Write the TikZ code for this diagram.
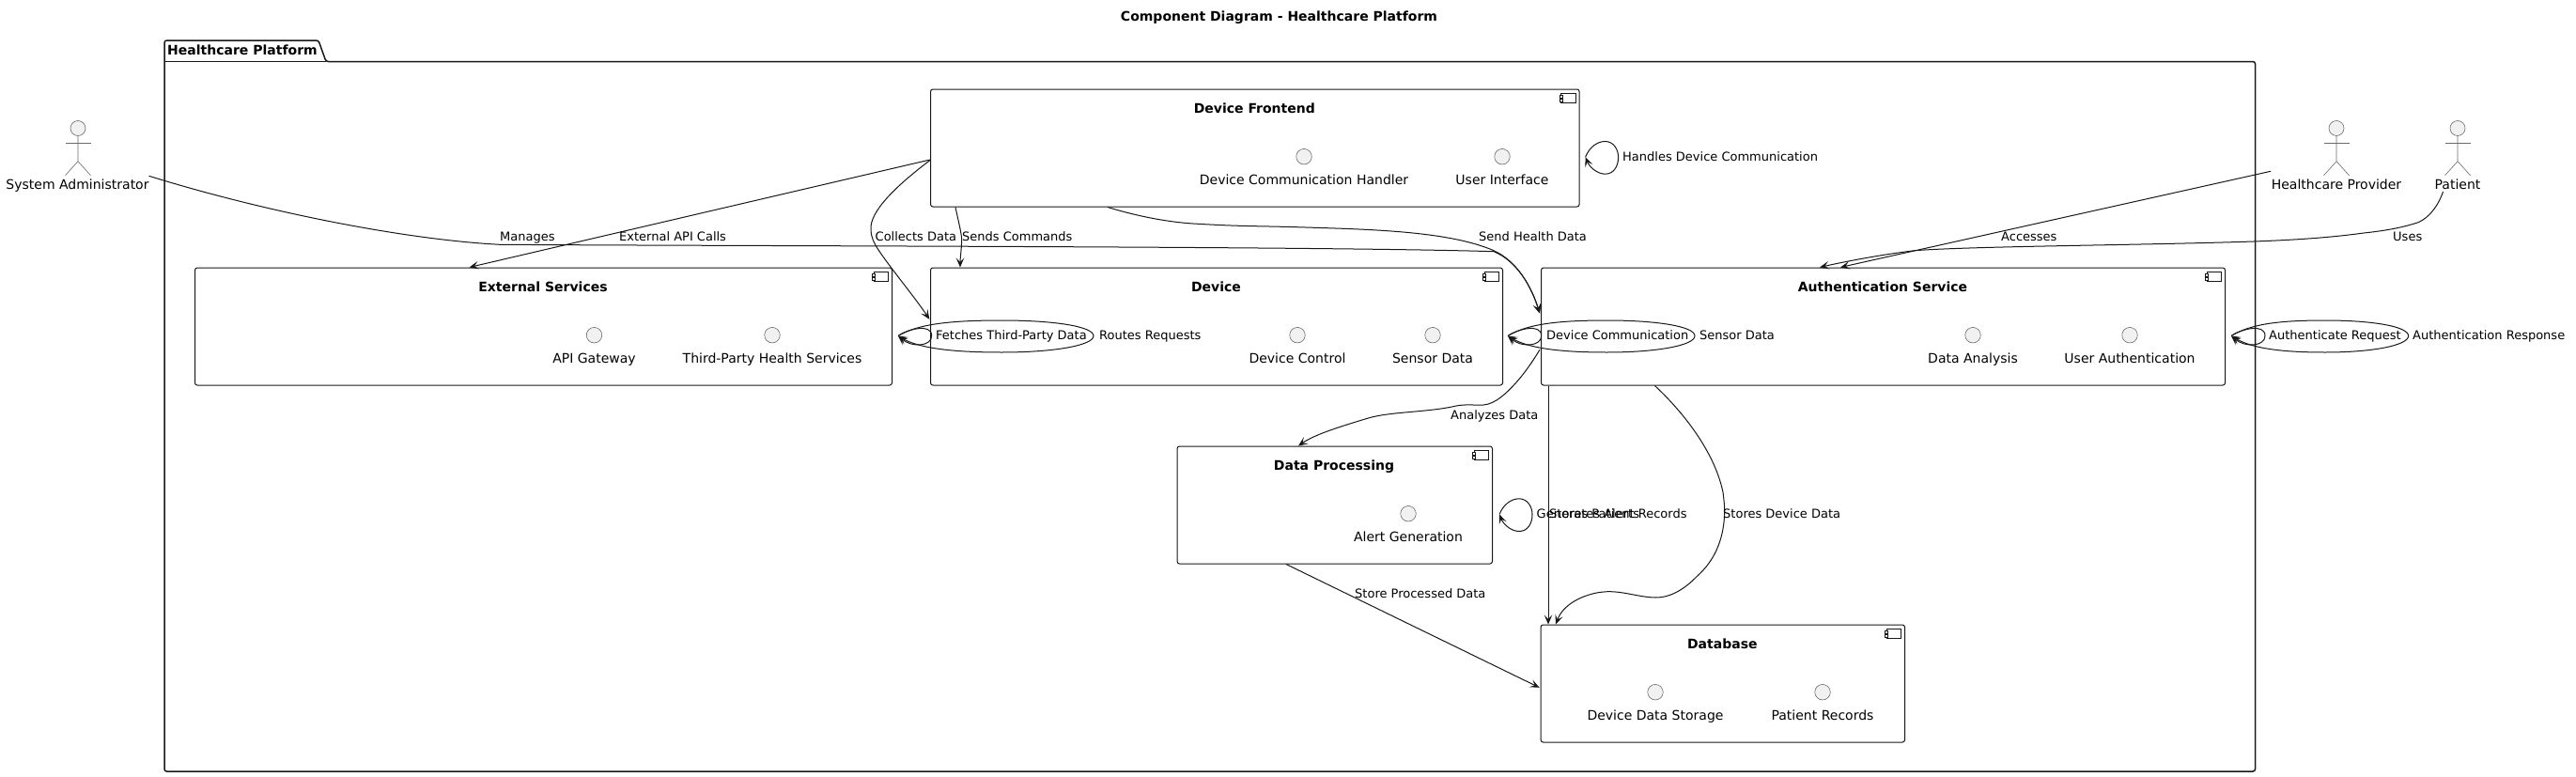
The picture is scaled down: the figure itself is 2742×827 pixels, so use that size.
\documentclass[tikz,border=0pt]{standalone}
\usepackage{fontspec}
\setmainfont{DejaVu Sans}
\usetikzlibrary{arrows.meta,calc}
\definecolor{ink}{HTML}{181818}
\definecolor{soft}{HTML}{6A6A6A}
\definecolor{iface}{HTML}{F1F1F1}
\tikzset{
  box/.style={draw=ink,fill=white,line width=1pt,rounded corners=2.5pt,inner sep=0pt,anchor=north west},
  boxtitle/.style={font=\fontsize{14}{16}\selectfont\bfseries,text=black,inner sep=0pt,anchor=base},
  lbl/.style={font=\fontsize{13}{15}\selectfont,text=black,inner sep=0pt,anchor=base west},
  clbl/.style={font=\fontsize{14}{16}\selectfont,text=black,inner sep=0pt,anchor=base},
  ball/.style={circle,draw=soft,fill=iface,line width=.6pt,minimum size=16.5pt,inner sep=0pt},
  edge/.style={draw=ink,line width=1pt,-{Stealth[length=10pt,width=8.5pt,inset=4.5pt]}},
  figure/.style={draw=soft,line width=.6pt},
  pack/.style={draw=ink,fill=white,line width=1.5pt,rounded corners=2.5pt},
}
\newcommand{\compicon}[1]{%
  \begin{scope}[shift={(#1.north east)}]
    \draw[ink,line width=.6pt,fill=white] (-20,5) rectangle (-4.5,15);
    \draw[ink,line width=.6pt,fill=white] (-21.7,6.7) rectangle (-18.3,9.3);
    \draw[ink,line width=.6pt,fill=white] (-21.7,10.7) rectangle (-18.3,13.3);
  \end{scope}}
\newcommand{\tightself}[1]{%
  \draw[edge,shift={(#1)}] (0,0) .. controls (4,-10) and (12,-16.7) .. (21,-16.7)
     .. controls (30,-16.7) and (35,-8) .. (35,0) .. controls (35,10) and (30,18) .. (21,18)
     .. controls (12,18) and (4,10) .. (0,0);}
\newcommand{\pairself}[3]{%
  \draw[edge,shift={(#1)}] (0,0) .. controls (10,-7) and (#2,-14) .. (#2,0)
     .. controls (#2,11) and (15,13) .. (0,0);
  \draw[edge,shift={(#1)}] (0,0) .. controls (20,-12) and ({.25*#3},-16.5) .. ({.53*#3},-16.5)
     .. controls ({.8*#3},-16.5) and (#3,-10) .. (#3,0)
     .. controls (#3,10) and ({.8*#3},17.5) .. ({.53*#3},17.5)
     .. controls ({.25*#3},17.5) and (20,12) .. (0,0);}
\newcommand{\stick}[2]{%
  \begin{scope}[shift={(#1,0)}]
    \node[circle,draw=soft,fill=iface,line width=.6pt,minimum size=16pt,inner sep=0pt] (#2) at (0,136.5) {};
    \draw[figure] (#2.south) -- (0,171.7) -- (-13.5,186.7);
    \draw[figure] (0,171.7) -- (13.5,186.7);
    \draw[figure] (-13.5,152.3) -- (13.5,152.3);
  \end{scope}}
\begin{document}
\begin{tikzpicture}[x=1pt,y=-1pt]
\useasboundingbox (0,0) rectangle (2742,827);
\fill[white] (0,0) rectangle (2742,827);
\node[font=\fontsize{14}{16}\selectfont\bfseries,inner sep=0pt,anchor=base] (diagramtitle) at (1361.5,23) {Component Diagram - Healthcare Platform};
% package
\draw[pack] (175,65.5) -- (175,43) -- (339,43) -- (347,65.5) -- (2400.5,65.5) -- (2400.5,821) -- (175,821) -- cycle;
\draw[ink,line width=1.5pt] (175,65.5) -- (347,65.5);
\node[lbl,font=\fontsize{14}{16}\selectfont\bfseries] (pkgname) at (178,58) {Healthcare Platform};
% actors
\stick{83}{adminhead}
\stick{2487}{providerhead}
\stick{2616}{patienthead}
\node[clbl] (admin) at (82.5,201) {System Administrator};
\node[clbl] (provider) at (2487,201) {Healthcare Provider};
\node[clbl] (patient) at (2616,201) {Patient};
% components
\node[box,minimum width=690.6pt,minimum height=125pt] (frontend) at (990,94.5) {};
\node[box,minimum width=742pt,minimum height=125pt] (ext) at (207,284.5) {};
\node[box,minimum width=609pt,minimum height=125pt] (device) at (990,284.5) {};
\node[box,minimum width=728pt,minimum height=125pt] (auth) at (1640,284.5) {};
\node[box,minimum width=335.5pt,minimum height=125pt] (data) at (1252.5,474.5) {};
\node[box,minimum width=387.4pt,minimum height=125pt] (database) at (1639.6,664.5) {};
\compicon{frontend}\compicon{ext}\compicon{device}\compicon{auth}\compicon{data}\compicon{database}
\node[boxtitle] (tfrontend) at (1335.3,120) {Device Frontend};
\node[boxtitle] (text) at (578,310) {External Services};
\node[boxtitle] (tdevice) at (1294.5,310) {Device};
\node[boxtitle] (tauth) at (2004,310) {Authentication Service};
\node[boxtitle] (tdata) at (1420,500) {Data Processing};
\node[boxtitle] (tdatabase) at (1833.3,690) {Database};
% interfaces
\node[ball] (i1) at (1388,166.7) {};
\node[clbl] (i1t) at (1388,196) {Device Communication Handler};
\node[ball] (i2) at (1599,166.7) {};
\node[clbl] (i2t) at (1599,196) {User Interface};
\node[ball] (i3) at (632.5,356.7) {};
\node[clbl] (i3t) at (632.5,386) {API Gateway};
\node[ball] (i4) at (822,356.7) {};
\node[clbl] (i4t) at (822,386) {Third-Party Health Services};
\node[ball] (i5) at (1381,356.7) {};
\node[clbl] (i5t) at (1381,386) {Device Control};
\node[ball] (i6) at (1525,356.7) {};
\node[clbl] (i6t) at (1525,386) {Sensor Data};
\node[ball] (i7) at (2100,356.7) {};
\node[clbl] (i7t) at (2100,386) {Data Analysis};
\node[ball] (i8) at (2267,356.7) {};
\node[clbl] (i8t) at (2267,386) {User Authentication};
\node[ball] (i9) at (1499,546.7) {};
\node[clbl] (i9t) at (1499,576) {Alert Generation};
\node[ball] (i10) at (1762,736.7) {};
\node[clbl] (i10t) at (1762,766) {Device Data Storage};
\node[ball] (i11) at (1940,736.7) {};
\node[clbl] (i11t) at (1940,766) {Patient Records};
% connectors
\draw[edge] ([shift={(76.1,-13.7)}]admin.base) .. controls (280,225) and (430,255) .. (532,260.3)
   .. controls (800,262) and (1400,262) .. (1590,267.7) .. controls (1615,278) and (1630,305) .. ([shift={(-1,-14)}]auth.west);
\draw[edge] ([shift={(189,0)}]frontend.south west) .. controls (1210,230) and (1245,237) .. (1275.5,238.3)
   .. controls (1320,241) and (1340,240.5) .. (1380,241.7) .. controls (1450,244) and (1540,245) .. (1590,266.7)
   .. controls (1615,278) and (1630,305) .. ([shift={(-1,-14)}]auth.west);
\draw[edge] ([shift={(0,12.5)}]frontend.west) -- ([shift={(292.6,0)}]ext.north west);
\draw[edge] ([shift={(0,13)}]frontend.west) .. controls (955,197) and (925,225) .. (927,245)
   .. controls (927.5,253) and (930,258) .. (934.4,265) .. controls (946,283) and (975,318) .. ([shift={(-.7,-7.7)}]device.west);
\draw[edge] ([shift={(27,0)}]frontend.south west) .. controls (1020,235) and (1024,250) .. (1023.6,256)
   .. controls (1023.5,265) and (1022,275) .. ([shift={(32,0)}]device.north west);
\draw[edge] ([shift={(-15.5,3)}]patient.base) .. controls (2595,220) and (2585,232) .. (2574,236.7)
   .. controls (2555,243) and (2535,246) .. (2516,248) .. controls (2480,253) and (2440,255.5) .. (2399,257)
   .. controls (2280,261) and (2100,262) .. (2038,266.7) .. controls (2010,270) and (1970,277) .. ([shift={(297,0)}]auth.north west);
\draw[edge] ([shift={(-70,-18.7)}]provider.base) -- ([shift={(319,0)}]auth.north west);
\draw[edge] ([shift={(8,0)}]auth.south west) -- ([shift={(8.4,0)}]database.north west);
\draw[edge] ([shift={(121.4,0)}]auth.south west) .. controls (1790,437) and (1825,480) .. (1834,524)
   .. controls (1835.5,535) and (1836,543) .. (1835.5,550)
   .. controls (1834,575) and (1825,597) .. (1806,613.7) .. controls (1795,625) and (1780,636) .. (1762.5,636)
   .. controls (1745,636) and (1725,628) .. (1707,630) .. controls (1692,631) and (1665,640) .. ([shift={(16.4,0)}]database.north west);
\draw[edge] ([shift={(-1,24.7)}]auth.west) .. controls (1630,387) and (1622,398) .. (1614,407)
   .. controls (1604,418) and (1592,430) .. (1579,431) .. controls (1570,431.5) and (1560,430) .. (1550,432)
   .. controls (1520,439) and (1480,438) .. (1456.5,445) .. controls (1430,453) and (1400,462) .. ([shift={(129.5,0)}]data.north west);
\draw[edge] ([shift={(116.5,0)}]data.south west) -- ([shift={(-1,4.3)}]database.west);
% self connectors
\coordinate (extself) at ([shift={(6,10)}]ext.east);
\coordinate (authselfa) at ([shift={(-35,10)}]auth.west);
\coordinate (authselfb) at ([shift={(6,10)}]auth.east);
\coordinate (frontself) at ([shift={(6,9.7)}]frontend.east);
\coordinate (dataself) at ([shift={(7,10)}]data.east);
\pairself{extself}{35.7}{208}
\pairself{authselfa}{35.7}{199}
\pairself{authselfb}{36}{188.6}
\tightself{frontself}
\tightself{dataself}
% connector labels
\node[lbl] (l1) at (532,256) {Manages};
\node[lbl] (l2) at (659,256) {External API Calls};
\node[lbl] (l3) at (931.5,256) {Collects Data};
\node[lbl] (l4) at (1024,256) {Sends Commands};
\node[lbl] (l5) at (1574,256) {Send Health Data};
\node[lbl] (l6) at (2130,256) {Accesses};
\node[lbl] (l7) at (2547,256) {Uses};
\node[lbl] (l8) at (996,361.5) {Fetches Third-Party Data};
\node[lbl] (l9) at (1170,361.5) {Routes Requests};
\node[lbl] (l10) at (1646,361.5) {Device Communication};
\node[lbl] (l11) at (1809,361.5) {Sensor Data};
\node[lbl] (l12) at (2415,361.5) {Authenticate Request};
\node[lbl] (l13) at (2568,361.5) {Authentication Response};
\node[lbl] (l14) at (1727,171) {Handles Device Communication};
\node[lbl] (l15) at (1544,446) {Analyzes Data};
\node[lbl] (l16) at (1635.5,551) {Generates Alerts};
\node[lbl] (l17) at (1649,551) {Stores Patient Records};
\node[lbl] (l18) at (1834,551) {Stores Device Data};
\node[lbl] (l19) at (1442,636) {Store Processed Data};
\end{tikzpicture}
\end{document}
